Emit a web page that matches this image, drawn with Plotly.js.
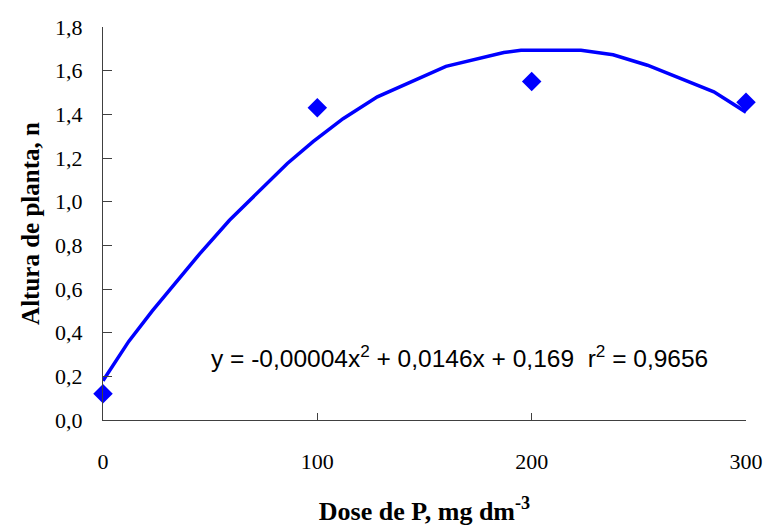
<!DOCTYPE html>
<html>
<head>
<meta charset="utf-8">
<script src="https://cdn.plot.ly/plotly-3.0.1.min.js"></script>
<style>html,body{margin:0;padding:0;background:#fff;}#chart{width:768px;height:531px;}</style>
</head>
<body>
<div id="chart"></div>
<script>
// Observed data (dose of P vs plant height)
const doseObs = [0, 100, 200, 300];
const heightObs = [0.12, 1.43, 1.55, 1.455];

// Fitted curve
const doseFit = [0, 12, 23, 45, 59, 86, 98, 112, 128, 148, 160, 187, 195, 223, 238, 254, 269, 285, 300];
const heightFit = [0.18, 0.36, 0.50, 0.76, 0.915, 1.175, 1.275, 1.38, 1.48, 1.57, 1.62, 1.683, 1.693, 1.693, 1.673, 1.625, 1.568, 1.503, 1.41];

const xTicks = [0, 100, 200, 300];
const yTicks = [0, 0.2, 0.4, 0.6, 0.8, 1.0, 1.2, 1.4, 1.6, 1.8];

const equationText = 'y = -0,00004x<sup>2</sup> + 0,0146x + 0,169  r<sup>2</sup> = 0,9656';

const traces = [
  {
    x: doseFit, y: heightFit, type: 'scatter', mode: 'lines',
    line: {color: '#0000FF', width: 3.5}, hoverinfo: 'skip', cliponaxis: false
  },
  {
    x: doseObs, y: heightObs, type: 'scatter', mode: 'markers',
    marker: {symbol: 'diamond', size: 15, color: '#0000FF'}, cliponaxis: false
  }
];

const layout = {
  width: 768, height: 531,
  margin: {l: 103, r: 22, t: 27, b: 111},
  paper_bgcolor: '#ffffff', plot_bgcolor: '#ffffff',
  showlegend: false,
  separators: ',.',
  font: {family: '"Liberation Serif", "Times New Roman", serif', color: '#000', size: 22},
  xaxis: {
    range: [0, 300], tickvals: xTicks, ticktext: xTicks.map(String),
    ticks: 'inside', ticklen: 7, tickcolor: '#404040', tickwidth: 1,
    showline: true, linecolor: '#404040', linewidth: 1,
    showgrid: false, zeroline: false,
    ticklabelstandoff: 22,
    tickfont: {size: 22, family: '"Liberation Serif", serif', color: '#000'},
    title: {text: '<b>Dose de P, mg dm<sup>-3</sup></b>', font: {size: 26, family: '"Liberation Serif", serif', color: '#000'}, standoff: 28}
  },
  yaxis: {
    range: [0, 1.8], tickvals: yTicks, tickformat: '.1f',
    ticks: 'inside', ticklen: 9, tickcolor: '#404040', tickwidth: 1,
    showline: true, linecolor: '#404040', linewidth: 1,
    showgrid: false, zeroline: false,
    ticklabelstandoff: 15,
    tickfont: {size: 22, family: '"Liberation Serif", serif', color: '#000'},
    title: {text: '<b>Altura de planta, n</b>', font: {size: 25, family: '"Liberation Serif", serif', color: '#000'}, standoff: 8}
  },
  annotations: [
    {
      x: 166.5, y: 0.29, xref: 'x', yref: 'y', showarrow: false,
      text: equationText, xanchor: 'center', yanchor: 'middle',
      font: {family: '"Liberation Sans", Arial, sans-serif', size: 24.5, color: '#000'}
    }
  ]
};

Plotly.newPlot('chart', traces, layout, {displayModeBar: false, staticPlot: true});
</script>
</body>
</html>
